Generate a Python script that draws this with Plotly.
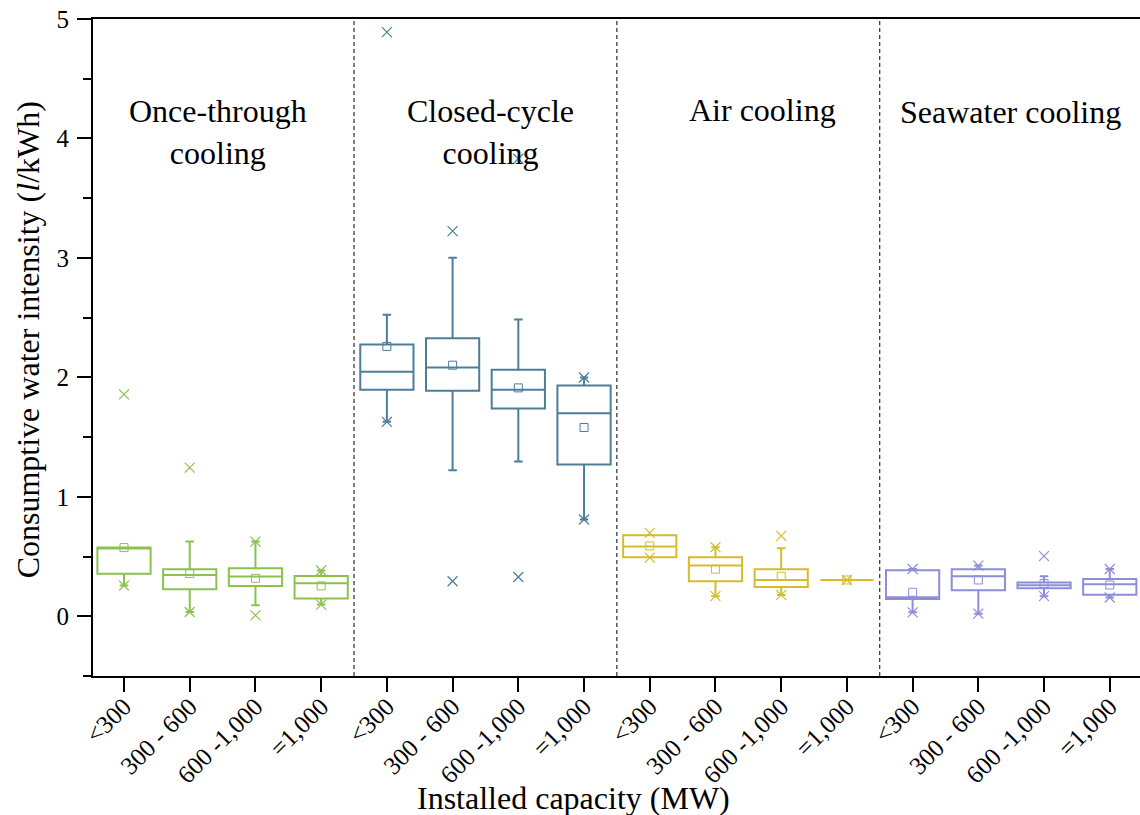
import plotly.graph_objects as go

# ---- data ----
categories = ["<300", "300 - 600", "600 -1,000", "=1,000"]
groups = ["Once-through<br>cooling", "Closed-cycle<br>cooling", "Air cooling", "Seawater cooling"]
colors = ["#8CC152", "#4D7E98", "#D5BC2C", "#8D8EDA"]

q1 = [[0.357, 0.226, 0.254, 0.148],
      [1.896, 1.887, 1.739, 1.270],
      [0.494, 0.293, 0.246, 0.304],
      [0.145, 0.218, 0.234, 0.181]]
median = [[0.575, 0.346, 0.332, 0.276],
          [2.046, 2.083, 1.896, 1.700],
          [0.584, 0.424, 0.304, 0.304],
          [0.160, 0.335, 0.260, 0.268]]
q3 = [[0.575, 0.394, 0.402, 0.338],
      [2.275, 2.328, 2.063, 1.932],
      [0.678, 0.494, 0.394, 0.304],
      [0.385, 0.394, 0.282, 0.313]]
lower = [[0.257, 0.036, 0.092, 0.098],
         [1.628, 1.223, 1.296, 0.810],
         [0.494, 0.168, 0.179, 0.304],
         [0.033, 0.022, 0.168, 0.157]]
upper = [[0.575, 0.625, 0.625, 0.383],
         [2.524, 3.001, 2.485, 1.999],
         [0.678, 0.578, 0.570, 0.304],
         [0.396, 0.424, 0.335, 0.396]]
means = [[0.575, 0.357, 0.318, 0.254],
         [2.259, 2.102, 1.912, 1.580],
         [0.589, 0.394, 0.335, 0.304],
         [0.201, 0.304, 0.274, 0.262]]
# 1% / 99% marks (x symbols)
xmarks = [[[1.857, 0.257], [1.245, 0.036], [0.625, 0.008], [0.383, 0.098]],
          [[4.890, 1.628], [3.224, 0.293], [3.830, 0.329], [1.999, 0.810]],
          [[0.698, 0.491], [0.578, 0.168], [0.673, 0.179], [0.304]],
          [[0.396, 0.033], [0.424, 0.022], [0.503, 0.168], [0.396, 0.157]]]
label_x = [1.43, 5.57, 9.71, 13.49]
label_y = [4.05, 4.05, 4.24, 4.22]

FONT = "Liberation Serif"
fig = go.Figure()

ncat = len(categories)
tickvals, ticktext = [], []
for g in range(len(groups)):
    pos = [g * ncat + i for i in range(ncat)]
    tickvals += pos
    ticktext += categories
    fig.add_trace(go.Box(
        x=pos, q1=q1[g], median=median[g], q3=q3[g],
        lowerfence=lower[g], upperfence=upper[g],
        width=0.81, whiskerwidth=0.16,
        line=dict(color=colors[g], width=2),
        fillcolor="rgba(255,255,255,0)",
        boxpoints=False, showlegend=False, hoverinfo="skip"))
    fig.add_trace(go.Scatter(
        x=pos, y=means[g], mode="markers", showlegend=False,
        marker=dict(symbol="square-open", size=8, color=colors[g],
                    line=dict(width=1, color=colors[g]))))
    xs, ys = [], []
    for i, vals in enumerate(xmarks[g]):
        for v in vals:
            xs.append(pos[i]); ys.append(v)
    fig.add_trace(go.Scatter(
        x=xs, y=ys, mode="markers", showlegend=False,
        marker=dict(symbol="x-thin-open", size=10, color=colors[g],
                    line=dict(width=1.2, color=colors[g]))))

for g in range(1, len(groups)):
    xd = g * ncat - 0.5
    fig.add_shape(type="line", x0=xd, x1=xd, y0=0, y1=1, yref="paper",
                  line=dict(color="black", width=1, dash="4px,3px"))

for g, name in enumerate(groups):
    fig.add_annotation(x=label_x[g], y=label_y[g], text=name, showarrow=False,
                       font=dict(family=FONT, size=32, color="black"),
                       align="center")

fig.add_annotation(x=0.459, y=-0.186, xref="paper", yref="paper",
                   text="Installed capacity (MW)", showarrow=False,
                   font=dict(family=FONT, size=32, color="black"),
                   xanchor="center", yanchor="middle")
fig.add_annotation(x=-0.062, y=0.511, xref="paper", yref="paper",
                   text="Consumptive water intensity (<i>l</i>/kWh)", showarrow=False,
                   textangle=-90,
                   font=dict(family=FONT, size=32, color="black"),
                   xanchor="center", yanchor="middle")

fig.update_layout(
    width=1140, height=815,
    margin=dict(l=93, r=0, t=19, b=139),
    plot_bgcolor="white", paper_bgcolor="white",
    boxmode="overlay",
    font=dict(family=FONT, color="black"),
    xaxis=dict(range=[-0.472, 15.46], tickvals=tickvals, ticktext=ticktext,
               tickangle=-45, tickfont=dict(family=FONT, size=25),
               ticks="outside", ticklen=14, tickwidth=2, tickcolor="black",
               showline=True, linecolor="black", linewidth=2, mirror=True,
               showgrid=False, zeroline=False, automargin=False,
               ticklabeloverflow="allow", ticklabelstandoff=-10),
    yaxis=dict(range=[-0.5, 5], tickvals=[0, 1, 2, 3, 4, 5],
               tickfont=dict(family=FONT, size=25),
               ticks="outside", ticklen=14, tickwidth=2, tickcolor="black",
               minor=dict(dtick=0.5, ticks="outside", ticklen=8, tickwidth=2,
                          tickcolor="black", showgrid=False),
               showline=True, linecolor="black", linewidth=2,
               showgrid=False, zeroline=False, automargin=False,
               ticklabeloverflow="allow", ticklabelstandoff=3),
)

# remove the default 8px page margin so the figure fills the window exactly
fig.write_html("out.html",
               config={"displayModeBar": False},
               post_script="document.body.style.margin='0px';"
                           "document.body.style.overflow='hidden';")
